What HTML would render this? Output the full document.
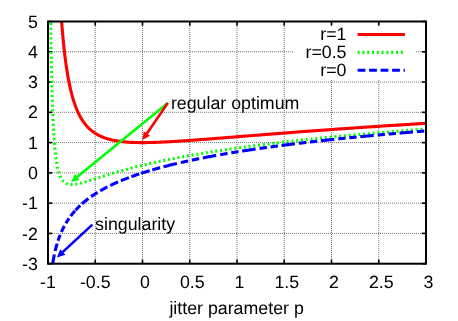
<!DOCTYPE html>
<html><head><meta charset="utf-8"><style>
html,body{margin:0;padding:0;background:#fff;}
svg{display:block;font-family:"Liberation Sans",sans-serif;font-size:17.8px;fill:#000;will-change:transform;text-rendering:geometricPrecision;}
</style></head><body>
<svg width="458" height="321" viewBox="0 0 458 321">
<rect width="458" height="321" fill="#fff"/>
<defs><clipPath id="c"><rect x="48.0" y="21.5" width="378.0" height="242.2"/></clipPath></defs>
<g stroke="#777" stroke-width="1" stroke-dasharray="1,1" fill="none">
<line x1="95.25" y1="22.00" x2="95.25" y2="263.70"/>
<line x1="142.50" y1="22.00" x2="142.50" y2="263.70"/>
<line x1="189.75" y1="22.00" x2="189.75" y2="263.70"/>
<line x1="237.00" y1="22.00" x2="237.00" y2="263.70"/>
<line x1="284.25" y1="22.00" x2="284.25" y2="263.70"/>
<line x1="331.50" y1="22.00" x2="331.50" y2="263.70"/>
<line x1="378.75" y1="22.00" x2="378.75" y2="263.70"/>
<line x1="48.00" y1="51.77" x2="426.00" y2="51.77"/>
<line x1="48.00" y1="82.05" x2="426.00" y2="82.05"/>
<line x1="48.00" y1="112.32" x2="426.00" y2="112.32"/>
<line x1="48.00" y1="142.60" x2="426.00" y2="142.60"/>
<line x1="48.00" y1="172.88" x2="426.00" y2="172.88"/>
<line x1="48.00" y1="203.15" x2="426.00" y2="203.15"/>
<line x1="48.00" y1="233.42" x2="426.00" y2="233.42"/>
</g>
<rect x="293.5" y="22" width="121.3" height="57.7" fill="#fff"/>
<g stroke="#000" stroke-width="1.6" fill="none">
<line x1="48.00" y1="263.70" x2="48.00" y2="259.50"/>
<line x1="48.00" y1="21.50" x2="48.00" y2="25.70"/>
<line x1="48.00" y1="21.50" x2="52.20" y2="21.50"/>
<line x1="426.00" y1="21.50" x2="421.80" y2="21.50"/>
<line x1="95.25" y1="263.70" x2="95.25" y2="259.50"/>
<line x1="95.25" y1="21.50" x2="95.25" y2="25.70"/>
<line x1="48.00" y1="51.77" x2="52.20" y2="51.77"/>
<line x1="426.00" y1="51.77" x2="421.80" y2="51.77"/>
<line x1="142.50" y1="263.70" x2="142.50" y2="259.50"/>
<line x1="142.50" y1="21.50" x2="142.50" y2="25.70"/>
<line x1="48.00" y1="82.05" x2="52.20" y2="82.05"/>
<line x1="426.00" y1="82.05" x2="421.80" y2="82.05"/>
<line x1="189.75" y1="263.70" x2="189.75" y2="259.50"/>
<line x1="189.75" y1="21.50" x2="189.75" y2="25.70"/>
<line x1="48.00" y1="112.32" x2="52.20" y2="112.32"/>
<line x1="426.00" y1="112.32" x2="421.80" y2="112.32"/>
<line x1="237.00" y1="263.70" x2="237.00" y2="259.50"/>
<line x1="237.00" y1="21.50" x2="237.00" y2="25.70"/>
<line x1="48.00" y1="142.60" x2="52.20" y2="142.60"/>
<line x1="426.00" y1="142.60" x2="421.80" y2="142.60"/>
<line x1="284.25" y1="263.70" x2="284.25" y2="259.50"/>
<line x1="284.25" y1="21.50" x2="284.25" y2="25.70"/>
<line x1="48.00" y1="172.88" x2="52.20" y2="172.88"/>
<line x1="426.00" y1="172.88" x2="421.80" y2="172.88"/>
<line x1="331.50" y1="263.70" x2="331.50" y2="259.50"/>
<line x1="331.50" y1="21.50" x2="331.50" y2="25.70"/>
<line x1="48.00" y1="203.15" x2="52.20" y2="203.15"/>
<line x1="426.00" y1="203.15" x2="421.80" y2="203.15"/>
<line x1="378.75" y1="263.70" x2="378.75" y2="259.50"/>
<line x1="378.75" y1="21.50" x2="378.75" y2="25.70"/>
<line x1="48.00" y1="233.42" x2="52.20" y2="233.42"/>
<line x1="426.00" y1="233.42" x2="421.80" y2="233.42"/>
<line x1="426.00" y1="263.70" x2="426.00" y2="259.50"/>
<line x1="426.00" y1="21.50" x2="426.00" y2="25.70"/>
<line x1="48.00" y1="263.70" x2="52.20" y2="263.70"/>
<line x1="426.00" y1="263.70" x2="421.80" y2="263.70"/>
</g>
<g clip-path="url(#c)" fill="none" stroke-width="3.1" stroke-linejoin="round">
<path d="M48.00,-100.00 L48.00,-100.00 L48.00,-100.00 L48.00,-100.00 L48.00,-100.00 L48.00,-100.00 L48.00,-100.00 L48.00,-100.00 L48.00,-100.00 L48.00,-100.00 L48.00,-100.00 L48.00,-100.00 L48.01,-100.00 L48.01,-100.00 L48.01,-100.00 L48.01,-100.00 L48.01,-100.00 L48.01,-100.00 L48.02,-100.00 L48.02,-100.00 L48.02,-100.00 L48.03,-100.00 L48.03,-100.00 L48.04,-100.00 L48.04,-100.00 L48.05,-100.00 L48.05,-100.00 L48.06,-100.00 L48.07,-100.00 L48.07,-100.00 L48.08,-100.00 L48.09,-100.00 L48.10,-100.00 L48.11,-100.00 L48.12,-100.00 L48.13,-100.00 L48.14,-100.00 L48.15,-100.00 L48.17,-100.00 L48.18,-100.00 L48.19,-100.00 L48.21,-100.00 L48.22,-100.00 L48.24,-100.00 L48.26,-100.00 L48.28,-100.00 L48.29,-100.00 L48.31,-100.00 L48.33,-100.00 L48.36,-100.00 L48.38,-100.00 L48.40,-100.00 L48.43,-100.00 L48.45,-100.00 L48.48,-100.00 L48.50,-100.00 L48.53,-100.00 L48.56,-100.00 L48.59,-100.00 L48.62,-100.00 L48.65,-100.00 L48.69,-100.00 L48.72,-100.00 L48.76,-100.00 L48.79,-100.00 L48.83,-100.00 L48.87,-100.00 L48.91,-100.00 L48.95,-100.00 L48.99,-100.00 L49.04,-100.00 L49.08,-100.00 L49.13,-100.00 L49.18,-100.00 L49.23,-100.00 L49.28,-100.00 L49.33,-100.00 L49.38,-100.00 L49.44,-100.00 L49.49,-100.00 L49.55,-100.00 L49.61,-100.00 L49.67,-100.00 L49.73,-100.00 L49.79,-100.00 L49.86,-100.00 L49.92,-100.00 L49.99,-100.00 L50.06,-100.00 L50.13,-100.00 L50.20,-100.00 L50.28,-100.00 L50.35,-100.00 L50.43,-100.00 L50.51,-100.00 L50.59,-100.00 L50.68,-100.00 L50.76,-100.00 L50.85,-100.00 L50.93,-100.00 L51.02,-100.00 L51.12,-100.00 L51.21,-100.00 L51.30,-100.00 L51.40,-100.00 L51.50,-100.00 L51.60,-100.00 L51.70,-100.00 L51.81,-100.00 L51.92,-100.00 L52.02,-100.00 L52.14,-100.00 L52.25,-100.00 L52.36,-100.00 L52.48,-100.00 L52.60,-100.00 L52.72,-100.00 L52.84,-100.00 L52.97,-100.00 L53.10,-100.00 L53.23,-100.00 L53.36,-100.00 L53.49,-100.00 L53.63,-100.00 L53.77,-100.00 L53.91,-100.00 L54.05,-100.00 L54.19,-100.00 L54.34,-100.00 L54.49,-100.00 L54.64,-100.00 L54.80,-100.00 L54.96,-100.00 L55.11,-100.00 L55.28,-100.00 L55.44,-100.00 L55.61,-100.00 L55.78,-100.00 L55.95,-100.00 L56.12,-100.00 L56.30,-98.26 L56.48,-91.63 L56.66,-85.19 L56.84,-78.94 L57.03,-72.88 L57.22,-67.00 L57.41,-61.29 L57.61,-55.75 L57.80,-50.37 L58.00,-45.14 L58.21,-40.07 L58.41,-35.14 L58.62,-30.35 L58.83,-25.70 L59.04,-21.18 L59.26,-16.78 L59.48,-12.51 L59.70,-8.36 L59.93,-4.33 L60.16,-0.40 L60.39,3.41 L60.62,7.13 L60.86,10.74 L61.10,14.25 L61.34,17.66 L61.58,20.99 L61.83,24.22 L62.08,27.37 L62.34,30.43 L62.60,33.42 L62.86,36.32 L63.12,39.14 L63.39,41.90 L63.66,44.57 L63.93,47.18 L64.21,49.72 L64.49,52.20 L64.77,54.61 L65.05,56.96 L65.34,59.24 L65.64,61.47 L65.93,63.64 L66.23,65.76 L66.53,67.82 L66.84,69.83 L67.15,71.78 L67.46,73.69 L67.77,75.55 L68.09,77.36 L68.42,79.13 L68.74,80.85 L69.07,82.53 L69.40,84.17 L69.74,85.76 L70.08,87.32 L70.42,88.83 L70.77,90.31 L71.12,91.75 L71.47,93.16 L71.83,94.53 L72.19,95.87 L72.56,97.17 L72.93,98.44 L73.30,99.68 L73.67,100.89 L74.05,102.07 L74.44,103.22 L74.82,104.34 L75.21,105.43 L75.61,106.50 L76.01,107.54 L76.41,108.55 L76.81,109.54 L77.22,110.50 L77.64,111.45 L78.05,112.36 L78.47,113.26 L78.90,114.13 L79.33,114.98 L79.76,115.81 L80.20,116.62 L80.64,117.41 L81.09,118.18 L81.53,118.93 L81.99,119.66 L82.45,120.37 L82.91,121.07 L83.37,121.74 L83.84,122.40 L84.32,123.05 L84.79,123.67 L85.28,124.29 L85.76,124.88 L86.25,125.46 L86.75,126.03 L87.25,126.58 L87.75,127.12 L88.26,127.64 L88.77,128.15 L89.28,128.65 L89.80,129.13 L90.33,129.60 L90.86,130.06 L91.39,130.50 L91.93,130.94 L92.47,131.36 L93.02,131.77 L93.57,132.17 L94.13,132.56 L94.69,132.94 L95.25,133.31 L95.82,133.67 L96.39,134.02 L96.97,134.36 L97.55,134.68 L98.14,135.00 L98.73,135.31 L99.33,135.62 L99.93,135.91 L100.54,136.19 L101.15,136.47 L101.77,136.74 L102.39,137.00 L103.01,137.25 L103.64,137.49 L104.28,137.73 L104.91,137.96 L105.56,138.18 L106.21,138.39 L106.86,138.60 L107.52,138.80 L108.19,139.00 L108.85,139.19 L109.53,139.37 L110.21,139.54 L110.89,139.71 L111.58,139.87 L112.27,140.03 L112.97,140.18 L113.67,140.33 L114.38,140.47 L115.10,140.60 L115.82,140.73 L116.54,140.86 L117.27,140.98 L118.00,141.09 L118.74,141.20 L119.49,141.30 L120.24,141.40 L120.99,141.50 L121.75,141.59 L122.52,141.67 L123.29,141.76 L124.06,141.83 L124.85,141.91 L125.63,141.97 L126.43,142.04 L127.22,142.10 L128.03,142.16 L128.83,142.21 L129.65,142.26 L130.47,142.31 L131.29,142.35 L132.12,142.39 L132.96,142.42 L133.80,142.45 L134.65,142.48 L135.50,142.51 L136.36,142.53 L137.22,142.55 L138.09,142.56 L138.96,142.58 L139.84,142.59 L140.73,142.59 L141.62,142.60 L142.52,142.60 L143.42,142.60 L144.33,142.59 L145.24,142.59 L146.16,142.58 L147.09,142.57 L148.02,142.55 L148.96,142.54 L149.90,142.52 L150.85,142.49 L151.81,142.47 L152.77,142.44 L153.74,142.42 L154.71,142.39 L155.69,142.35 L156.67,142.32 L157.66,142.28 L158.66,142.24 L159.66,142.20 L160.67,142.16 L161.69,142.11 L162.71,142.07 L163.74,142.02 L164.77,141.97 L165.81,141.92 L166.86,141.86 L167.91,141.81 L168.97,141.75 L170.03,141.69 L171.10,141.63 L172.18,141.57 L173.26,141.50 L174.35,141.44 L175.44,141.37 L176.55,141.30 L177.65,141.23 L178.77,141.16 L179.89,141.09 L181.02,141.02 L182.15,140.94 L183.29,140.86 L184.44,140.79 L185.59,140.71 L186.75,140.63 L187.92,140.55 L189.09,140.46 L190.27,140.38 L191.45,140.29 L192.64,140.21 L193.84,140.12 L195.05,140.03 L196.26,139.94 L197.48,139.85 L198.70,139.76 L199.94,139.67 L201.17,139.57 L202.42,139.48 L203.67,139.38 L204.93,139.29 L206.20,139.19 L207.47,139.09 L208.75,138.99 L210.03,138.89 L211.33,138.79 L212.63,138.69 L213.93,138.59 L215.25,138.49 L216.57,138.38 L217.89,138.28 L219.23,138.17 L220.57,138.06 L221.92,137.96 L223.27,137.85 L224.64,137.74 L226.00,137.63 L227.38,137.52 L228.76,137.41 L230.15,137.30 L231.55,137.19 L232.96,137.08 L234.37,136.96 L235.79,136.85 L237.21,136.74 L238.65,136.62 L240.09,136.51 L241.54,136.39 L242.99,136.27 L244.45,136.16 L245.92,136.04 L247.40,135.92 L248.88,135.80 L250.38,135.68 L251.88,135.56 L253.38,135.44 L254.90,135.32 L256.42,135.20 L257.95,135.08 L259.48,134.96 L261.03,134.84 L262.58,134.71 L264.14,134.59 L265.70,134.47 L267.28,134.34 L268.86,134.22 L270.45,134.10 L272.04,133.97 L273.65,133.85 L275.26,133.72 L276.88,133.59 L278.50,133.47 L280.14,133.34 L281.78,133.21 L283.43,133.09 L285.09,132.96 L286.76,132.83 L288.43,132.70 L290.11,132.58 L291.80,132.45 L293.50,132.32 L295.20,132.19 L296.91,132.06 L298.63,131.93 L300.36,131.80 L302.10,131.67 L303.84,131.54 L305.60,131.41 L307.36,131.28 L309.13,131.15 L310.90,131.02 L312.69,130.88 L314.48,130.75 L316.28,130.62 L318.09,130.49 L319.90,130.36 L321.73,130.22 L323.56,130.09 L325.40,129.96 L327.25,129.83 L329.11,129.69 L330.98,129.56 L332.85,129.43 L334.73,129.29 L336.62,129.16 L338.52,129.03 L340.43,128.89 L342.34,128.76 L344.27,128.62 L346.20,128.49 L348.14,128.36 L350.09,128.22 L352.05,128.09 L354.01,127.95 L355.99,127.82 L357.97,127.68 L359.96,127.55 L361.96,127.41 L363.97,127.28 L365.99,127.14 L368.01,127.01 L370.05,126.87 L372.09,126.74 L374.14,126.60 L376.20,126.46 L378.27,126.33 L380.34,126.19 L382.43,126.06 L384.52,125.92 L386.63,125.79 L388.74,125.65 L390.86,125.51 L392.99,125.38 L395.13,125.24 L397.28,125.11 L399.43,124.97 L401.60,124.83 L403.77,124.70 L405.95,124.56 L408.14,124.43 L410.35,124.29 L412.55,124.15 L414.77,124.02 L417.00,123.88 L419.24,123.74 L421.48,123.61 L423.74,123.47 L426.00,123.34" stroke="#ff0000"/>
<path d="M48.00,-100.00 L48.00,-100.00 L48.00,-100.00 L48.00,-100.00 L48.00,-100.00 L48.00,-100.00 L48.00,-100.00 L48.00,-100.00 L48.00,-100.00 L48.00,-100.00 L48.00,-100.00 L48.00,-100.00 L48.01,-100.00 L48.01,-100.00 L48.01,-100.00 L48.01,-100.00 L48.01,-100.00 L48.01,-100.00 L48.02,-100.00 L48.02,-100.00 L48.02,-100.00 L48.03,-100.00 L48.03,-100.00 L48.04,-100.00 L48.04,-100.00 L48.05,-100.00 L48.05,-100.00 L48.06,-100.00 L48.07,-100.00 L48.07,-100.00 L48.08,-100.00 L48.09,-100.00 L48.10,-100.00 L48.11,-100.00 L48.12,-100.00 L48.13,-100.00 L48.14,-100.00 L48.15,-100.00 L48.17,-100.00 L48.18,-100.00 L48.19,-100.00 L48.21,-100.00 L48.22,-100.00 L48.24,-100.00 L48.26,-100.00 L48.28,-100.00 L48.29,-100.00 L48.31,-100.00 L48.33,-100.00 L48.36,-100.00 L48.38,-100.00 L48.40,-100.00 L48.43,-100.00 L48.45,-100.00 L48.48,-100.00 L48.50,-100.00 L48.53,-100.00 L48.56,-100.00 L48.59,-100.00 L48.62,-100.00 L48.65,-100.00 L48.69,-100.00 L48.72,-100.00 L48.76,-100.00 L48.79,-100.00 L48.83,-100.00 L48.87,-100.00 L48.91,-100.00 L48.95,-100.00 L48.99,-100.00 L49.04,-100.00 L49.08,-100.00 L49.13,-100.00 L49.18,-100.00 L49.23,-100.00 L49.28,-100.00 L49.33,-100.00 L49.38,-100.00 L49.44,-100.00 L49.49,-100.00 L49.55,-100.00 L49.61,-100.00 L49.67,-100.00 L49.73,-100.00 L49.79,-100.00 L49.86,-93.30 L49.92,-81.08 L49.99,-69.45 L50.06,-58.38 L50.13,-47.84 L50.20,-37.80 L50.28,-28.22 L50.35,-19.09 L50.43,-10.38 L50.51,-2.07 L50.59,5.87 L50.68,13.45 L50.76,20.69 L50.85,27.62 L50.93,34.23 L51.02,40.56 L51.12,46.61 L51.21,52.40 L51.30,57.95 L51.40,63.25 L51.50,68.33 L51.60,73.20 L51.70,77.86 L51.81,82.33 L51.92,86.62 L52.02,90.72 L52.14,94.66 L52.25,98.44 L52.36,102.06 L52.48,105.53 L52.60,108.87 L52.72,112.07 L52.84,115.14 L52.97,118.09 L53.10,120.93 L53.23,123.65 L53.36,126.26 L53.49,128.77 L53.63,131.18 L53.77,133.49 L53.91,135.72 L54.05,137.85 L54.19,139.91 L54.34,141.88 L54.49,143.77 L54.64,145.60 L54.80,147.35 L54.96,149.03 L55.11,150.65 L55.28,152.20 L55.44,153.69 L55.61,155.13 L55.78,156.51 L55.95,157.83 L56.12,159.10 L56.30,160.33 L56.48,161.50 L56.66,162.63 L56.84,163.71 L57.03,164.75 L57.22,165.75 L57.41,166.71 L57.61,167.63 L57.80,168.51 L58.00,169.36 L58.21,170.17 L58.41,170.95 L58.62,171.70 L58.83,172.42 L59.04,173.10 L59.26,173.76 L59.48,174.39 L59.70,174.99 L59.93,175.57 L60.16,176.12 L60.39,176.65 L60.62,177.15 L60.86,177.63 L61.10,178.09 L61.34,178.53 L61.58,178.95 L61.83,179.34 L62.08,179.72 L62.34,180.08 L62.60,180.42 L62.86,180.75 L63.12,181.05 L63.39,181.34 L63.66,181.62 L63.93,181.88 L64.21,182.12 L64.49,182.35 L64.77,182.57 L65.05,182.77 L65.34,182.96 L65.64,183.14 L65.93,183.31 L66.23,183.46 L66.53,183.60 L66.84,183.73 L67.15,183.85 L67.46,183.96 L67.77,184.06 L68.09,184.15 L68.42,184.23 L68.74,184.30 L69.07,184.36 L69.40,184.42 L69.74,184.46 L70.08,184.50 L70.42,184.53 L70.77,184.55 L71.12,184.56 L71.47,184.57 L71.83,184.57 L72.19,184.56 L72.56,184.55 L72.93,184.53 L73.30,184.50 L73.67,184.47 L74.05,184.43 L74.44,184.39 L74.82,184.34 L75.21,184.28 L75.61,184.22 L76.01,184.16 L76.41,184.09 L76.81,184.01 L77.22,183.93 L77.64,183.85 L78.05,183.76 L78.47,183.67 L78.90,183.57 L79.33,183.47 L79.76,183.37 L80.20,183.26 L80.64,183.15 L81.09,183.03 L81.53,182.91 L81.99,182.79 L82.45,182.66 L82.91,182.54 L83.37,182.40 L83.84,182.27 L84.32,182.13 L84.79,181.99 L85.28,181.85 L85.76,181.71 L86.25,181.56 L86.75,181.41 L87.25,181.25 L87.75,181.10 L88.26,180.94 L88.77,180.78 L89.28,180.62 L89.80,180.46 L90.33,180.29 L90.86,180.13 L91.39,179.96 L91.93,179.78 L92.47,179.61 L93.02,179.44 L93.57,179.26 L94.13,179.08 L94.69,178.90 L95.25,178.72 L95.82,178.54 L96.39,178.36 L96.97,178.17 L97.55,177.98 L98.14,177.80 L98.73,177.61 L99.33,177.42 L99.93,177.23 L100.54,177.03 L101.15,176.84 L101.77,176.65 L102.39,176.45 L103.01,176.25 L103.64,176.06 L104.28,175.86 L104.91,175.66 L105.56,175.46 L106.21,175.26 L106.86,175.06 L107.52,174.85 L108.19,174.65 L108.85,174.45 L109.53,174.24 L110.21,174.04 L110.89,173.83 L111.58,173.62 L112.27,173.42 L112.97,173.21 L113.67,173.00 L114.38,172.79 L115.10,172.58 L115.82,172.37 L116.54,172.16 L117.27,171.95 L118.00,171.74 L118.74,171.53 L119.49,171.32 L120.24,171.11 L120.99,170.89 L121.75,170.68 L122.52,170.47 L123.29,170.26 L124.06,170.04 L124.85,169.83 L125.63,169.61 L126.43,169.40 L127.22,169.19 L128.03,168.97 L128.83,168.76 L129.65,168.54 L130.47,168.33 L131.29,168.11 L132.12,167.89 L132.96,167.68 L133.80,167.46 L134.65,167.25 L135.50,167.03 L136.36,166.82 L137.22,166.60 L138.09,166.38 L138.96,166.17 L139.84,165.95 L140.73,165.73 L141.62,165.52 L142.52,165.30 L143.42,165.09 L144.33,164.87 L145.24,164.65 L146.16,164.44 L147.09,164.22 L148.02,164.00 L148.96,163.79 L149.90,163.57 L150.85,163.36 L151.81,163.14 L152.77,162.92 L153.74,162.71 L154.71,162.49 L155.69,162.28 L156.67,162.06 L157.66,161.85 L158.66,161.63 L159.66,161.42 L160.67,161.20 L161.69,160.99 L162.71,160.77 L163.74,160.56 L164.77,160.34 L165.81,160.13 L166.86,159.91 L167.91,159.70 L168.97,159.49 L170.03,159.27 L171.10,159.06 L172.18,158.85 L173.26,158.63 L174.35,158.42 L175.44,158.21 L176.55,158.00 L177.65,157.78 L178.77,157.57 L179.89,157.36 L181.02,157.15 L182.15,156.94 L183.29,156.72 L184.44,156.51 L185.59,156.30 L186.75,156.09 L187.92,155.88 L189.09,155.67 L190.27,155.46 L191.45,155.25 L192.64,155.04 L193.84,154.83 L195.05,154.62 L196.26,154.42 L197.48,154.21 L198.70,154.00 L199.94,153.79 L201.17,153.58 L202.42,153.38 L203.67,153.17 L204.93,152.96 L206.20,152.75 L207.47,152.55 L208.75,152.34 L210.03,152.14 L211.33,151.93 L212.63,151.73 L213.93,151.52 L215.25,151.32 L216.57,151.11 L217.89,150.91 L219.23,150.70 L220.57,150.50 L221.92,150.30 L223.27,150.09 L224.64,149.89 L226.00,149.69 L227.38,149.48 L228.76,149.28 L230.15,149.08 L231.55,148.88 L232.96,148.68 L234.37,148.48 L235.79,148.28 L237.21,148.08 L238.65,147.88 L240.09,147.68 L241.54,147.48 L242.99,147.28 L244.45,147.08 L245.92,146.88 L247.40,146.68 L248.88,146.48 L250.38,146.29 L251.88,146.09 L253.38,145.89 L254.90,145.69 L256.42,145.50 L257.95,145.30 L259.48,145.11 L261.03,144.91 L262.58,144.71 L264.14,144.52 L265.70,144.32 L267.28,144.13 L268.86,143.94 L270.45,143.74 L272.04,143.55 L273.65,143.35 L275.26,143.16 L276.88,142.97 L278.50,142.78 L280.14,142.58 L281.78,142.39 L283.43,142.20 L285.09,142.01 L286.76,141.82 L288.43,141.63 L290.11,141.44 L291.80,141.25 L293.50,141.06 L295.20,140.87 L296.91,140.68 L298.63,140.49 L300.36,140.30 L302.10,140.11 L303.84,139.93 L305.60,139.74 L307.36,139.55 L309.13,139.36 L310.90,139.18 L312.69,138.99 L314.48,138.81 L316.28,138.62 L318.09,138.43 L319.90,138.25 L321.73,138.06 L323.56,137.88 L325.40,137.69 L327.25,137.51 L329.11,137.33 L330.98,137.14 L332.85,136.96 L334.73,136.78 L336.62,136.59 L338.52,136.41 L340.43,136.23 L342.34,136.05 L344.27,135.87 L346.20,135.69 L348.14,135.50 L350.09,135.32 L352.05,135.14 L354.01,134.96 L355.99,134.78 L357.97,134.60 L359.96,134.43 L361.96,134.25 L363.97,134.07 L365.99,133.89 L368.01,133.71 L370.05,133.53 L372.09,133.36 L374.14,133.18 L376.20,133.00 L378.27,132.83 L380.34,132.65 L382.43,132.47 L384.52,132.30 L386.63,132.12 L388.74,131.95 L390.86,131.77 L392.99,131.60 L395.13,131.42 L397.28,131.25 L399.43,131.08 L401.60,130.90 L403.77,130.73 L405.95,130.56 L408.14,130.38 L410.35,130.21 L412.55,130.04 L414.77,129.87 L417.00,129.70 L419.24,129.52 L421.48,129.35 L423.74,129.18 L426.00,129.01" stroke="#00ff00" stroke-dasharray="2,2.8"/>
<path d="M52.70,263.70 L52.84,262.82 L52.98,261.96 L53.12,261.12 L53.26,260.31 L53.40,259.52 L53.54,258.75 L53.68,258.00 L53.82,257.27 L53.96,256.55 L54.10,255.85 L54.24,255.17 L54.38,254.50 M55.16,251.00 L55.32,250.31 L55.49,249.63 L55.65,248.97 L55.82,248.33 L55.98,247.69 L56.15,247.07 L56.31,246.47 L56.48,245.87 L56.64,245.29 L56.81,244.71 L56.97,244.15 L57.14,243.60 M58.06,240.70 L58.24,240.16 L58.42,239.63 L58.60,239.11 L58.78,238.60 L58.96,238.10 L59.14,237.61 L59.32,237.12 L59.50,236.64 L59.68,236.17 L59.86,235.71 L60.04,235.25 L60.22,234.80 M61.41,232.00 L61.65,231.46 L61.89,230.93 L62.13,230.41 L62.37,229.90 L62.61,229.40 L62.85,228.91 L63.09,228.42 L63.33,227.94 L63.57,227.47 L63.81,227.01 L64.05,226.55 L64.29,226.10 M65.87,223.30 L66.14,222.85 L66.40,222.41 L66.67,221.97 L66.94,221.54 L67.21,221.12 L67.47,220.70 L67.74,220.28 L68.01,219.88 L68.27,219.47 L68.54,219.08 L68.81,218.69 L69.08,218.30 M70.67,216.10 L71.03,215.62 L71.39,215.15 L71.75,214.69 L72.11,214.23 L72.47,213.78 L72.83,213.33 L73.20,212.90 L73.56,212.47 L73.92,212.04 L74.28,211.62 L74.64,211.21 L75.00,210.80 M75.60,210.14 L75.98,209.72 L76.37,209.31 L76.75,208.90 L77.13,208.50 L77.52,208.10 L77.90,207.71 L78.28,207.33 L78.67,206.95 L79.05,206.57 L79.43,206.20 L79.82,205.83 L80.20,205.47 M81.90,203.91 L82.44,203.43 L82.98,202.96 L83.53,202.49 L84.07,202.04 L84.61,201.59 L85.15,201.14 L85.69,200.70 L86.23,200.27 L86.78,199.84 L87.32,199.42 L87.86,199.01 L88.40,198.60 M91.10,196.64 L91.64,196.27 L92.18,195.89 L92.72,195.52 L93.27,195.16 L93.81,194.80 L94.35,194.44 L94.89,194.09 L95.43,193.74 L95.97,193.40 L96.52,193.06 L97.06,192.72 L97.60,192.39 M100.20,190.84 L100.80,190.50 L101.40,190.16 L102.00,189.82 L102.60,189.48 L103.20,189.15 L103.80,188.82 L104.40,188.50 L105.00,188.18 L105.60,187.86 L106.20,187.55 L106.80,187.24 L107.40,186.93 M110.30,185.49 L110.95,185.17 L111.60,184.86 L112.25,184.56 L112.90,184.25 L113.55,183.95 L114.20,183.65 L114.85,183.35 L115.50,183.06 L116.15,182.77 L116.80,182.48 L117.45,182.20 L118.10,181.92 M120.90,180.73 L121.57,180.46 L122.23,180.18 L122.90,179.91 L123.57,179.64 L124.23,179.38 L124.90,179.11 L125.57,178.85 L126.23,178.59 L126.90,178.34 L127.57,178.08 L128.23,177.83 L128.90,177.58 M131.40,176.66 L132.05,176.42 L132.70,176.19 L133.35,175.96 L134.00,175.73 L134.65,175.50 L135.30,175.27 L135.95,175.05 L136.60,174.83 L137.25,174.61 L137.90,174.39 L138.55,174.17 L139.20,173.95 M141.20,173.29 L141.91,173.07 L142.62,172.84 L143.32,172.61 L144.03,172.39 L144.74,172.17 L145.45,171.94 L146.16,171.73 L146.87,171.51 L147.57,171.29 L148.28,171.08 L148.99,170.86 L149.70,170.65 M152.30,169.89 L152.96,169.70 L153.62,169.51 L154.28,169.32 L154.93,169.13 L155.59,168.95 L156.25,168.76 L156.91,168.58 L157.57,168.40 L158.22,168.21 L158.88,168.03 L159.54,167.86 L160.20,167.68 M163.50,166.80 L164.62,166.51 L165.73,166.22 L166.85,165.93 L167.97,165.65 L169.08,165.37 L170.20,165.09 L171.32,164.82 L172.43,164.54 L173.55,164.27 L174.67,164.01 L175.78,163.74 L176.90,163.48 M180.90,162.55 L181.51,162.41 L182.12,162.28 L182.73,162.14 L183.33,162.00 L183.94,161.87 L184.55,161.73 L185.16,161.60 L185.77,161.46 L186.38,161.33 L186.98,161.20 L187.59,161.06 L188.20,160.93 M191.90,160.14 L192.51,160.02 L193.12,159.89 L193.72,159.76 L194.33,159.64 L194.94,159.51 L195.55,159.39 L196.16,159.26 L196.77,159.14 L197.38,159.01 L197.98,158.89 L198.59,158.77 L199.20,158.65 M202.85,157.92 L203.97,157.71 L205.08,157.49 L206.20,157.28 L207.32,157.06 L208.43,156.85 L209.55,156.64 L210.67,156.43 L211.78,156.23 L212.90,156.02 L214.02,155.82 L215.13,155.61 L216.25,155.41 M220.25,154.70 L220.86,154.59 L221.47,154.49 L222.08,154.38 L222.68,154.27 L223.29,154.17 L223.90,154.06 L224.51,153.96 L225.12,153.86 L225.72,153.75 L226.33,153.65 L226.94,153.55 L227.55,153.44 M231.25,152.83 L231.86,152.72 L232.47,152.62 L233.07,152.53 L233.68,152.43 L234.29,152.33 L234.90,152.23 L235.51,152.13 L236.12,152.03 L236.73,151.93 L237.33,151.84 L237.94,151.74 L238.55,151.64 M242.20,151.07 L243.32,150.89 L244.43,150.72 L245.55,150.55 L246.67,150.38 L247.78,150.21 L248.90,150.04 L250.02,149.87 L251.13,149.71 L252.25,149.54 L253.37,149.38 L254.48,149.21 L255.60,149.05 M259.60,148.47 L260.21,148.38 L260.82,148.30 L261.42,148.21 L262.03,148.12 L262.64,148.04 L263.25,147.95 L263.86,147.87 L264.47,147.78 L265.07,147.70 L265.68,147.61 L266.29,147.53 L266.90,147.44 M270.60,146.94 L271.21,146.85 L271.82,146.77 L272.42,146.69 L273.03,146.61 L273.64,146.53 L274.25,146.44 L274.86,146.36 L275.47,146.28 L276.07,146.20 L276.68,146.12 L277.29,146.04 L277.90,145.96 M281.55,145.48 L282.67,145.34 L283.78,145.19 L284.90,145.05 L286.02,144.91 L287.13,144.77 L288.25,144.63 L289.37,144.49 L290.48,144.35 L291.60,144.21 L292.72,144.07 L293.83,143.93 L294.95,143.79 M298.95,143.31 L299.56,143.23 L300.17,143.16 L300.77,143.09 L301.38,143.01 L301.99,142.94 L302.60,142.87 L303.21,142.80 L303.82,142.73 L304.43,142.65 L305.03,142.58 L305.64,142.51 L306.25,142.44 M309.95,142.01 L310.56,141.94 L311.17,141.87 L311.77,141.80 L312.38,141.73 L312.99,141.66 L313.60,141.59 L314.21,141.52 L314.82,141.45 L315.43,141.38 L316.03,141.31 L316.64,141.24 L317.25,141.18 M320.90,140.77 L322.02,140.64 L323.13,140.52 L324.25,140.40 L325.37,140.28 L326.48,140.16 L327.60,140.03 L328.72,139.91 L329.83,139.79 L330.95,139.67 L332.07,139.55 L333.18,139.44 L334.30,139.32 M338.30,138.90 L338.91,138.83 L339.52,138.77 L340.12,138.71 L340.73,138.64 L341.34,138.58 L341.95,138.52 L342.56,138.46 L343.17,138.39 L343.78,138.33 L344.38,138.27 L344.99,138.21 L345.60,138.15 M349.30,137.77 L349.91,137.71 L350.52,137.65 L351.12,137.59 L351.73,137.53 L352.34,137.47 L352.95,137.41 L353.56,137.35 L354.17,137.29 L354.78,137.23 L355.38,137.17 L355.99,137.11 L356.60,137.05 M360.25,136.69 L361.37,136.58 L362.48,136.47 L363.60,136.37 L364.72,136.26 L365.83,136.15 L366.95,136.05 L368.07,135.94 L369.18,135.84 L370.30,135.73 L371.42,135.63 L372.53,135.52 L373.65,135.42 M377.65,135.05 L378.26,134.99 L378.87,134.94 L379.48,134.88 L380.08,134.83 L380.69,134.77 L381.30,134.72 L381.91,134.66 L382.52,134.60 L383.13,134.55 L383.73,134.49 L384.34,134.44 L384.95,134.39 M388.65,134.05 L389.26,134.00 L389.87,133.95 L390.48,133.89 L391.08,133.84 L391.69,133.79 L392.30,133.73 L392.91,133.68 L393.52,133.63 L394.13,133.57 L394.73,133.52 L395.34,133.47 L395.95,133.41 M399.60,133.10 L400.72,133.00 L401.83,132.91 L402.95,132.81 L404.07,132.71 L405.18,132.62 L406.30,132.53 L407.42,132.43 L408.53,132.34 L409.65,132.24 L410.77,132.15 L411.88,132.06 L413.00,131.96 M417.00,131.63 L417.61,131.58 L418.22,131.53 L418.83,131.49 L419.43,131.44 L420.04,131.39 L420.65,131.34 L421.26,131.29 L421.87,131.24 L422.48,131.19 L423.08,131.14 L423.69,131.09 L424.30,131.04" stroke="#0000ff"/>
</g>
<line x1="167.80" y1="103.10" x2="76.43" y2="177.58" stroke="#00ff00" stroke-width="2.6"/><polygon points="71.00,182.00 74.80,174.00 79.60,179.89" fill="#00ff00"/><line x1="167.80" y1="103.10" x2="146.36" y2="134.33" stroke="#ff0000" stroke-width="2.6"/><polygon points="142.40,140.10 143.79,131.35 150.06,135.66" fill="#ff0000"/><line x1="92.40" y1="224.60" x2="62.04" y2="252.65" stroke="#0000ff" stroke-width="2.6"/><polygon points="56.90,257.40 60.20,249.18 65.35,254.76" fill="#0000ff"/>
<rect x="48.0" y="21.5" width="378.0" height="242.2" fill="none" stroke="#000" stroke-width="2"/>
<g>
<text x="48.00" y="287.7" text-anchor="middle">-1</text>
<text x="95.25" y="287.7" text-anchor="middle">-0.5</text>
<text x="145.00" y="287.7" text-anchor="middle">0</text>
<text x="192.25" y="287.7" text-anchor="middle">0.5</text>
<text x="239.50" y="287.7" text-anchor="middle">1</text>
<text x="286.75" y="287.7" text-anchor="middle">1.5</text>
<text x="334.00" y="287.7" text-anchor="middle">2</text>
<text x="381.25" y="287.7" text-anchor="middle">2.5</text>
<text x="428.50" y="287.7" text-anchor="middle">3</text>
<text x="37.9" y="27.60" text-anchor="end">5</text>
<text x="37.9" y="57.88" text-anchor="end">4</text>
<text x="37.9" y="88.15" text-anchor="end">3</text>
<text x="37.9" y="118.42" text-anchor="end">2</text>
<text x="37.9" y="148.70" text-anchor="end">1</text>
<text x="37.9" y="178.97" text-anchor="end">0</text>
<text x="37.9" y="209.25" text-anchor="end">-1</text>
<text x="37.9" y="239.52" text-anchor="end">-2</text>
<text x="37.9" y="269.80" text-anchor="end">-3</text>
</g>
<text x="236.6" y="314" text-anchor="middle">jitter parameter p</text>
<text x="170.9" y="109.3">regular optimum</text>
<text x="95.1" y="229.7">singularity</text>
<text x="346.5" y="40.1" text-anchor="end">r=1</text>
<text x="346.5" y="57.8" text-anchor="end">r=0.5</text>
<text x="346.5" y="75.5" text-anchor="end">r=0</text>
<g fill="none" stroke-width="3.1">
<line x1="357.6" y1="34.5" x2="404.9" y2="34.5" stroke="#ff0000"/>
<line x1="357.6" y1="52.4" x2="404.9" y2="52.4" stroke="#00ff00" stroke-dasharray="2,2.8"/>
<line x1="357.6" y1="70.2" x2="404.9" y2="70.2" stroke="#0000ff" stroke-dasharray="7.8,3.7"/>
</g>
</svg>
</body></html>
